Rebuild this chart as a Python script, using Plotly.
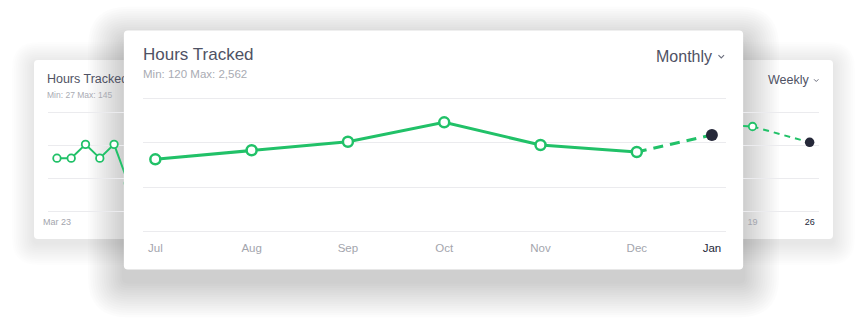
import plotly.graph_objects as go

W, H = 868, 322

# ---------------- data ----------------
# front card: monthly hours tracked
months = ["Jul", "Aug", "Sep", "Oct", "Nov", "Dec", "Jan"]
month_pos = [0, 1, 2, 3, 4, 5, 5.78]          # Jan is the current, partial period
hours = [1622, 1825, 2018, 2454, 1944, 1787, 2169]

# back card: weekly hours tracked (middle part hidden behind the front card)
week_pos = [0, 1, 2, 3, 4, 5, 47.7, 48.7, 52.7]
week_hours = [80, 80, 101, 80, 101, 42, 129, 128, 104]
week_ticks_left = [0]
week_labels_left = ["Mar 23"]
week_ticks_right = [48.7, 52.7]
week_labels_right = ["19", "26"]

GREEN = "#21c168"
DARK = "#252839"
TITLE = "#4f5264"
SUB = "#a9abb3"
TICK = "#a3a5ad"
GRID = "#ebebee"
FONT = "Liberation Sans, Arial, sans-serif"


def X(x):
    # compensate small horizontal offset seen in the rendering
    return (x - 4) / 0.9954


def fx(x):
    return X(x) / W


def fy(y):
    return 1 - y / H


def rrect(x0, y0, x1, y1, r):
    def p(x, y):
        return f"{fx(x):.6f},{fy(y):.6f}"
    return (f"M {p(x0 + r, y0)} L {p(x1 - r, y0)} Q {p(x1, y0)} {p(x1, y0 + r)} "
            f"L {p(x1, y1 - r)} Q {p(x1, y1)} {p(x1 - r, y1)} "
            f"L {p(x0 + r, y1)} Q {p(x0, y1)} {p(x0, y1 - r)} "
            f"L {p(x0, y0 + r)} Q {p(x0, y0)} {p(x0 + r, y0)} Z")


shapes = []


def shadow(x0, y0, x1, y1, spread, dy, n, alpha):
    for i in range(n):
        s = spread * (i + 1) / n
        shapes.append(dict(type="path", xref="paper", yref="paper", layer="below",
                           path=rrect(x0 - s, y0 + dy - s, x1 + s, y1 + dy + s, 4 + s),
                           fillcolor=f"rgba(0,0,0,{alpha})", line=dict(width=0)))


def card(x0, y0, x1, y1):
    shapes.append(dict(type="path", xref="paper", yref="paper", layer="below",
                       path=rrect(x0, y0, x1, y1, 4), fillcolor="white",
                       line=dict(width=0)))


# back card
shadow(33, 60, 833, 239, 22, 4, 12, 0.009)
card(33, 60, 833, 239)
# front card
shadow(123, 30.5, 743, 269.5, 36, 12, 16, 0.011)
card(123, 30.5, 743, 269.5)


def chevron(x, y, w, h, width):
    shapes.append(dict(type="path", xref="paper", yref="paper", layer="above",
                       path=f"M {fx(x):.6f},{fy(y):.6f} L {fx(x + w / 2):.6f},{fy(y + h):.6f} "
                            f"L {fx(x + w):.6f},{fy(y):.6f}",
                       line=dict(color="#6b6e7d", width=width)))


chevron(718.3, 55.2, 5.6, 2.8, 1.1)
chevron(814, 79.3, 4.4, 2.2, 1)

fig = go.Figure()

# ---------------- front chart ----------------
fig.add_trace(go.Scatter(x=month_pos[-2:], y=hours[-2:], mode="lines",
                         line=dict(color=GREEN, width=3, dash="10px,7px"),
                         xaxis="x", yaxis="y", hoverinfo="skip"))
fig.add_trace(go.Scatter(x=month_pos[:-1], y=hours[:-1], mode="lines+markers",
                         line=dict(color=GREEN, width=3),
                         marker=dict(size=10, color="white", line=dict(color=GREEN, width=2.5)),
                         xaxis="x", yaxis="y"))
fig.add_trace(go.Scatter(x=month_pos[-1:], y=hours[-1:], mode="markers",
                         marker=dict(size=12, color=DARK), xaxis="x", yaxis="y"))

# ---------------- back chart (left and right visible parts) ----------------
for xa, ya in (("x2", "y2"), ("x3", "y3")):
    fig.add_trace(go.Scatter(x=week_pos[-2:], y=week_hours[-2:], mode="lines",
                             line=dict(color=GREEN, width=2, dash="6px,5px"),
                             xaxis=xa, yaxis=ya))
    fig.add_trace(go.Scatter(x=week_pos[:-1], y=week_hours[:-1], mode="lines+markers",
                             line=dict(color=GREEN, width=2),
                             marker=dict(size=7.5, color="white", line=dict(color=GREEN, width=1.8)),
                             xaxis=xa, yaxis=ya))
    fig.add_trace(go.Scatter(x=week_pos[-1:], y=week_hours[-1:], mode="markers",
                             marker=dict(size=9.5, color=DARK), xaxis=xa, yaxis=ya))

# back title, clipped by the front card
fig.add_trace(go.Scatter(x=[X(46)], y=[0.5], mode="text", text=["Hours Tracked"],
                         textposition="middle right", cliponaxis=True,
                         textfont=dict(family=FONT, size=12.5, color=TITLE),
                         xaxis="x4", yaxis="y4", hoverinfo="skip"))

hidden = dict(visible=True, showgrid=False, zeroline=False, showline=False,
              showticklabels=False, ticks="", fixedrange=True)

fig.update_layout(
    width=W, height=H, margin=dict(l=0, r=0, t=0, b=0),
    paper_bgcolor="white", plot_bgcolor="rgba(0,0,0,0)", showlegend=False,
    shapes=shapes,
    xaxis=dict(domain=[fx(142), fx(726)], range=[-0.1297, 5.928], anchor="y",
               showgrid=False, zeroline=False, showline=False, ticks="",
               tickvals=month_pos,
               ticktext=months[:-1] + [f"<span style='color:{DARK}'>{months[-1]}</span>"],
               tickfont=dict(family=FONT, size=11.5, color=TICK), ticklabelstandoff=3),
    yaxis=dict(domain=[fy(236), fy(92)], range=[-101, 3135], anchor="x",
               tickvals=[0, 1000, 2000, 3000], showticklabels=False, ticks="",
               gridcolor=GRID, gridwidth=1, zeroline=False, showline=False),
    xaxis2=dict(domain=[fx(47), fx(123)], range=[-0.629, 4.685], anchor="y2",
                showgrid=False, zeroline=False, showline=False, ticks="",
                tickvals=week_ticks_left, ticktext=week_labels_left,
                tickfont=dict(family=FONT, size=9, color=TICK)),
    yaxis2=dict(domain=[fy(215), fy(105)], range=[-6.06, 160.6], anchor="x2",
                tickvals=[0, 50, 100, 150], showticklabels=False, ticks="",
                gridcolor=GRID, zeroline=False, showline=False),
    xaxis3=dict(domain=[fx(743), fx(819)], range=[48.04, 53.36], anchor="y3",
                showgrid=False, zeroline=False, showline=False, ticks="",
                tickvals=week_ticks_right,
                ticktext=[week_labels_right[0], f"<span style='color:{DARK}'>{week_labels_right[1]}</span>"],
                tickfont=dict(family=FONT, size=9, color=TICK)),
    yaxis3=dict(domain=[fy(215), fy(105)], range=[-6.06, 160.6], anchor="x3",
                tickvals=[0, 50, 100, 150], showticklabels=False, ticks="",
                gridcolor=GRID, zeroline=False, showline=False),
    xaxis4=dict(domain=[fx(40), fx(123)], range=[X(40), X(123)], anchor="y4", **hidden),
    yaxis4=dict(domain=[fy(90), fy(70)], range=[0, 1], anchor="x4", **hidden),
    annotations=[
        dict(text="Hours Tracked", x=fx(140.5), y=fy(55), xref="paper", yref="paper",
             xanchor="left", yanchor="middle", showarrow=False,
             font=dict(family=FONT, size=17, color=TITLE)),
        dict(text="Min: 120 Max: 2,562", x=fx(140.5), y=fy(74), xref="paper", yref="paper",
             xanchor="left", yanchor="middle", showarrow=False,
             font=dict(family=FONT, size=11.5, color=SUB)),
        dict(text="Monthly", x=fx(714), y=fy(56), xref="paper", yref="paper",
             xanchor="right", yanchor="middle", showarrow=False,
             font=dict(family=FONT, size=16, color=TITLE)),
        dict(text="Min: 27 Max: 145", x=fx(44.5), y=fy(95), xref="paper", yref="paper",
             xanchor="left", yanchor="middle", showarrow=False,
             font=dict(family=FONT, size=8.5, color=SUB)),
        dict(text="Weekly", x=fx(811.5), y=fy(80), xref="paper", yref="paper",
             xanchor="right", yanchor="middle", showarrow=False,
             font=dict(family=FONT, size=12.5, color=TITLE)),
    ],
)

fig.write_html("out.html")
